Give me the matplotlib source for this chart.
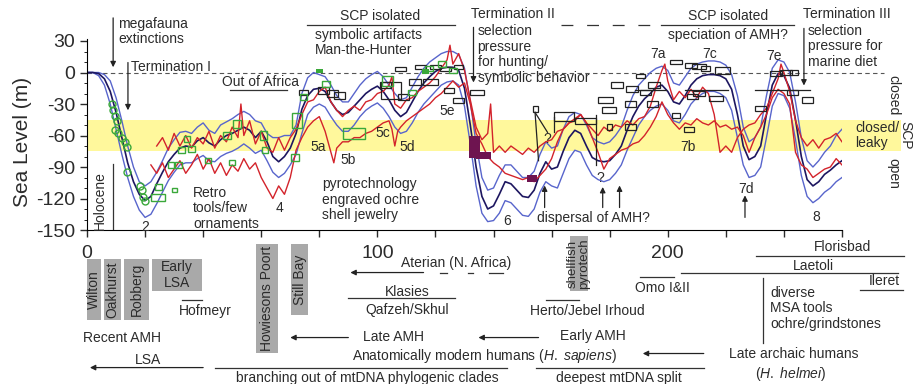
import matplotlib
matplotlib.use('Agg')
import matplotlib.pyplot as plt
from matplotlib.patches import Rectangle

plt.rcParams['font.family'] = ['Liberation Sans', 'DejaVu Sans']
plt.rcParams['mathtext.fontset'] = 'custom'
plt.rcParams['mathtext.rm'] = 'Liberation Sans'
plt.rcParams['mathtext.it'] = 'Liberation Sans:italic'
plt.rcParams['axes.unicode_minus'] = False

# ---- sea level model (ka, m) ----
BLUE_KA = [0, 2, 4, 6, 8, 10, 12, 14, 16, 18,
           20, 22, 24, 26, 28, 30, 32, 34, 36, 38,
           40, 42, 44, 46, 48, 50, 52, 54, 56, 58,
           60, 62, 64, 66, 68, 70, 72, 74, 76, 78,
           80, 82, 84, 86, 88, 90, 92, 94, 96, 98,
           100, 102, 104, 106, 108, 110, 112, 114, 116, 118,
           120, 122, 124, 126, 128, 130, 132, 134, 136, 138,
           140, 142, 144, 146, 148, 150, 152, 154, 156, 158,
           160, 162, 164, 166, 168, 170, 172, 174, 176, 178,
           180, 182, 184, 186, 188, 190, 192, 194, 196, 198,
           200, 202, 204, 206, 208, 210, 212, 214, 216, 218,
           220, 222, 224, 226, 228, 230, 232, 234, 236, 238,
           240, 242, 244, 246, 248, 250, 252, 254, 256, 258,
           260]
NAVY = [0, 0, -1, -6, -18, -38, -62, -86, -104, -116,
        -122, -118, -106, -95, -85, -78, -72, -70, -71, -65,
        -62, -67, -70, -64, -60, -58, -55, -52, -55, -62,
        -56, -66, -80, -85, -80, -72, -58, -35, -22, -16,
        -15, -18, -28, -36, -40, -38, -32, -26, -20, -16,
        -13, -18, -26, -36, -42, -38, -28, -18, -10, -4,
        1, 4, 5, 5, 2, -15, -50, -90, -118, -130,
        -127, -116, -104, -106, -112, -118, -119, -112, -96, -85,
        -92, -90, -75, -62, -55, -58, -70, -81, -84, -85,
        -84, -78, -70, -55, -42, -32, -25, -20, -14, -12,
        -18, -28, -30, -22, -12, -6, -3, -2, -2, -3,
        -6, -16, -40, -70, -83, -80, -70, -40, -12, -1,
        -3, -15, -45, -80, -102, -108, -104, -97, -93, -88,
        -84]
BLUE_HI = [0, 0, 0, -2, -8, -24, -46, -70, -90, -104,
           -108, -104, -95, -84, -72, -64, -57, -56, -58, -52,
           -48, -55, -58, -50, -47, -44, -40, -37, -40, -46,
           -48, -58, -62, -62, -60, -60, -50, -20, -5, 0,
           -2, -4, -12, -22, -28, -28, -20, -12, -6, -2,
           1, -4, -12, -20, -26, -24, -14, -4, 4, 10,
           14, 18, 20, 20, 17, 4, -28, -68, -100, -112,
           -110, -98, -88, -88, -94, -100, -100, -94, -78, -66,
           -72, -70, -54, -42, -38, -40, -50, -62, -66, -68,
           -66, -60, -52, -36, -22, -12, -6, 0, 4, 6,
           2, -10, -12, -4, 4, 8, 10, 11, 11, 10,
           7, -2, -22, -52, -66, -62, -52, -22, 4, 12,
           10, 0, -28, -62, -84, -90, -84, -76, -70, -60,
           -54]
BLUE_LO = [0, 0, -3, -12, -30, -54, -78, -100, -118, -131,
           -138, -135, -125, -114, -103, -95, -88, -86, -86, -82,
           -79, -84, -85, -80, -77, -75, -72, -68, -72, -77,
           -74, -84, -95, -100, -96, -88, -78, -58, -40, -33,
           -30, -33, -42, -50, -56, -56, -50, -42, -36, -32,
           -29, -34, -42, -52, -58, -56, -48, -38, -30, -24,
           -18, -12, -9, -8, -12, -32, -68, -108, -134, -142,
           -141, -134, -122, -124, -130, -136, -137, -130, -114, -104,
           -108, -110, -96, -82, -74, -76, -88, -98, -102, -104,
           -102, -96, -88, -74, -62, -50, -42, -36, -32, -30,
           -36, -46, -48, -40, -30, -24, -20, -18, -18, -20,
           -24, -36, -62, -88, -100, -98, -90, -62, -32, -20,
           -22, -34, -64, -98, -118, -124, -120, -114, -110, -104,
           -100]

# ---- red sea level records ----
REDA_KA = [24, 26, 28, 30, 32, 34, 36, 38, 40, 42, 44, 46, 48, 50, 52, 53, 54, 56, 58, 60,
           62, 64, 66, 68, 70, 72, 74, 76, 78, 80, 82, 84, 86, 88, 90, 92, 94, 96, 98, 100,
           102, 104, 105, 106, 108, 110, 112, 114, 116, 118, 120, 122, 124, 125, 126, 128, 130, 132, 134, 136,
           138, 139, 140, 142, 144, 146, 148, 150, 152, 154, 156, 158, 160, 162, 164, 166, 168, 170, 172, 174,
           176, 178, 180, 182, 184, 186, 188, 190, 192, 194, 196, 198, 199, 200, 202, 204, 206, 208, 210, 212,
           214, 216, 218, 220, 222, 224, 226, 228, 230, 232, 234, 236, 238, 239, 240, 242, 244, 246, 248, 250,
           252, 254, 256, 258, 260]
REDA_M = [-70, -62, -74, -58, -70, -60, -72, -62, -68, -56, -72, -60, -66, -52, -62, -30, -60, -46, -68, -56,
          -72, -76, -62, -74, -62, -54, -40, -28, -26, -18, -14, -28, -36, -42, -36, -32, -36, -28, -26, -20,
          -18, -12, -4, -30, -34, -26, -24, -18, -14, -10, -4, 4, 12, 26, 8, 18, 2, -26, -52, -64,
          -58, -30, -76, -70, -76, -70, -74, -78, -72, -76, -70, -66, -64, -56, -54, -48, -46, -40, -48, -54,
          -60, -52, -56, -50, -52, -46, -50, -44, -42, -32, -14, 2, 8, -8, -26, -18, -24, -16, -24, -14,
          -20, -40, -76, -70, -76, -62, -54, -50, -48, -40, -34, -20, -6, 8, 0, -18, -46, -62, -70, -64,
          -72, -64, -62, -58, -66]
REDB_KA = [22, 24, 26, 28, 30, 32, 34, 36, 38, 40, 42, 44, 46, 48, 50, 52, 54, 56, 58, 60,
           62, 64, 66, 68, 70, 72, 74, 76, 78, 80, 82, 84, 85, 86, 88, 90, 92, 94, 96, 98,
           100, 102, 104, 105, 106, 107, 108, 110, 112, 114, 116, 118, 120, 122, 124, 126, 128, 130, 132, 134,
           136, 138, 140, 142, 144, 146, 148, 150, 152, 154, 156, 158, 160, 162, 164, 166, 168, 170, 172, 174,
           176, 178, 180, 182, 184, 186, 188, 190, 192, 194, 196, 198, 200, 202, 204, 206, 208, 210, 212, 214,
           216, 218, 220, 222, 224, 226, 228, 230, 232, 234, 236, 238, 240, 242, 244, 246, 248, 250, 252, 254,
           256, 258, 260]
REDB_M = [-88, -96, -86, -100, -92, -84, -96, -88, -78, -92, -82, -96, -86, -98, -88, -94, -82, -92, -86, -100,
          -110, -120, -108, -116, -100, -74, -62, -52, -46, -42, -56, -76, -86, -72, -66, -66, -62, -62, -58, -56,
          -52, -48, -46, -54, -70, -56, -52, -46, -42, -38, -34, -30, -24, -20, -14, -8, -14, -10, -30, -58,
          -68, -80, -86, -90, -96, -98, -100, -102, -100, -104, -98, -92, -82, -66, -54, -48, -44, -40, -48, -62,
          -76, -92, -82, -78, -74, -72, -68, -66, -60, -52, -42, -28, -40, -48, -54, -48, -50, -44, -48, -50,
          -46, -52, -50, -54, -52, -60, -76, -62, -52, -40, -24, -16, -20, -30, -76, -88, -92, -100, -96, -92,
          -90, -82, -88]

# ---- dated sea-level indicators: centre ka, centre m, half-range ka, half-range m ----
BOX_KA = [74.5, 81.4, 84.5, 87.0, 102.8, 104.8, 109.0, 108.0, 113.0, 114.8, 118.3, 120.0, 123.4, 128.0,
          124.6, 128.0, 134.3, 164.2, 171.7, 178.6, 179.8, 182.6, 187.6, 187.2, 190.7, 192.4, 195.2,
          194.7, 187.2, 202.8, 208.0, 202.8, 207.4, 208.5, 210.8, 213.1, 218.9, 210.8, 216.6, 232.0,
          237.2, 240.7, 243.5, 243.0, 248.2]
BOX_M = [-19, -17, -20, -22, -12, -17, -23, 3, -9, 5, -9, 5, 3.5, 5,
         -17, -27, -19, -42, -46, -26, -36, -12, -16, -30, -3, -19, -12,
         -30, -52, 10, 7, -41, -54, -23, 6, 4, 2, -20, -25, -34,
         -1, 0, 0, -19, -26]
BOX_DKA = [1.5, 1.8, 1.8, 1.8, 2.0, 3.5, 2.0, 2.0, 2.0, 2.0, 2.5, 2.0, 2.0, 1.5,
           1.8, 1.8, 2.5, 3.5, 3.5, 2.5, 2.5, 2.0, 2.0, 1.8, 1.5, 2.0, 2.0,
           2.0, 2.0, 2.0, 2.0, 1.5, 1.8, 1.8, 2.5, 1.5, 2.5, 2.0, 2.5, 1.8,
           2.0, 2.0, 1.5, 2.0, 1.8]
BOX_DM = [2.5, 3, 3, 3, 3, 8, 3, 2, 2.5, 2, 2.5, 2, 2, 2,
          2.5, 2.5, 2.5, 4, 3, 3, 3, 3, 3, 2.5, 2, 2.5, 2.5,
          2.5, 2.5, 2, 2.5, 2.5, 2.5, 2.5, 2.5, 2.5, 3, 2.5, 2.5, 2.5,
          2.5, 2.5, 2.5, 2.5, 3]
SMALL_BOX_KA = [154.5, 180.0]
SMALL_BOX_M = [-35, -52]

GREEN_SQ_KA = [24.6, 24.5, 30.1, 29.0, 31.5, 32.6, 34.4, 36.0, 41.8, 48.2, 49.9, 51.6, 60.8, 61.4,
               71.7, 72.3, 74.6, 82.3, 91.8, 103.5, 112.0, 117.7, 122.3, 126.0]
GREEN_SQ_M = [-109, -119, -112, -88, -88, -74, -63, -73, -84, -60, -86, -49, -60, -74,
              -81, -46, -23, -11, -58, -8, -19, 4, 8, 2]
GREEN_SQ_DKA = [1.1, 2.3, 1.0, 1.1, 1.1, 1.1, 1.1, 1.1, 1.0, 1.3, 1.1, 1.3, 1.1, 1.1,
                1.3, 1.8, 1.3, 1.3, 3.8, 2.0, 1.3, 1.3, 1.5, 1.3]
GREEN_SQ_DM = [3, 3, 2, 2.5, 2.5, 3, 3, 3, 2.5, 3.5, 2.5, 3.5, 4, 3,
               3, 7, 3, 3, 5, 5, 2.5, 2.5, 3, 2.5]
GREEN_FILL_KA = [80.0, 116.6]
GREEN_FILL_M = [1.5, 1.0]

CORAL_KA = [8.5, 9.1, 9.7, 10.2, 9.7, 10.8, 12.0, 13.1, 13.7, 13.7, 18.3, 18.9, 19.4, 20.0]
CORAL_M = [-30, -36, -41, -46, -55, -58, -62, -66, -71, -95, -108, -112, -119, -122]

PURPLE_KA = [133.5, 136.4, 153.3]
PURPLE_M = [-70.5, -79, -101]
PURPLE_DKA = [2.0, 2.6, 1.7]
PURPLE_DM = [10.5, 3.5, 3.2]

# range bars (ka0, m0, ka1, m1)
RANGE_LINES = [(154.3, -38, 155.5, -84), (154.3, -38, 158.6, -57), (160.8, -42, 160.8, -57),
               (175.2, -40, 175.2, -88), (230, -17, 249, -17), (206, -16.5, 220.7, -16.5),
               (188.6, -17, 199.5, -17)]

TXT = '#2b2b2b'
LBLUE = '#5865cc'
NAVYC = '#1d1660'
RED = '#d3232b'
GREEN = '#3aa83a'

fig = plt.figure(figsize=(9.13, 3.84), dpi=100)
ax = fig.add_axes([0.0953, 0.401, 0.8269, 0.4977])
ax.set_xlim(0, 260)
ax.set_ylim(-150, 32)
for s in ['top', 'right']:
    ax.spines[s].set_visible(False)
ax.set_yticks([-150, -120, -90, -60, -30, 0, 30])
ax.set_yticks(range(-150, 31, 10), minor=True)
ax.set_xticks(range(0, 261, 20))
ax.set_xticklabels(['0' if t == 0 else ('100' if t == 100 else ('200' if t == 200 else '')) for t in range(0, 261, 20)])
ax.tick_params(axis='both', which='major', labelsize=14, length=5, width=1, colors=TXT)
ax.tick_params(axis='y', which='minor', length=2.5)
ax.tick_params(axis='x', pad=6)
ax.text(-0.086, 0.46, 'Sea Level (m)', transform=ax.transAxes, rotation=90,
        ha='center', va='center', fontsize=15, color=TXT)

# SCP band and zero line
ax.add_patch(Rectangle((0, -75), 280.3, 30, facecolor='#fff89c', edgecolor='none', zorder=0, clip_on=False))
ax.plot([0, 274.5], [0, 0], ls=(0, (4, 3)), color='#555555', lw=0.8, zorder=1, clip_on=False)

# curves
ax.plot(BLUE_KA, BLUE_HI, color=LBLUE, lw=1.0, zorder=2)
ax.plot(BLUE_KA, BLUE_LO, color=LBLUE, lw=1.0, zorder=2)
ax.plot(REDA_KA, REDA_M, color=RED, lw=1.0, zorder=2.2)
ax.plot(REDB_KA, REDB_M, color=RED, lw=1.0, zorder=2.2)
ax.plot(BLUE_KA, NAVY, color=NAVYC, lw=1.2, zorder=2.1)

for k, m, dk, dm in zip(PURPLE_KA, PURPLE_M, PURPLE_DKA, PURPLE_DM):
    ax.add_patch(Rectangle((k - dk, m - dm), 2 * dk, 2 * dm, facecolor='#6e1450', edgecolor='none', zorder=2.5))
for k, m, dk, dm in zip(BOX_KA, BOX_M, BOX_DKA, BOX_DM):
    ax.add_patch(Rectangle((k - dk, m - dm), 2 * dk, 2 * dm, facecolor='none', edgecolor='#222222', lw=0.9, zorder=3))
for k, m in zip(SMALL_BOX_KA, SMALL_BOX_M):
    ax.add_patch(Rectangle((k - 0.9, m - 3), 1.8, 6, facecolor='none', edgecolor='#222222', lw=0.9, zorder=3))
for k0, m0, k1, m1 in RANGE_LINES:
    ax.plot([k0, k1], [m0, m1], color='#222222', lw=0.9, zorder=3)
for k, m, dk, dm in zip(GREEN_SQ_KA, GREEN_SQ_M, GREEN_SQ_DKA, GREEN_SQ_DM):
    ax.add_patch(Rectangle((k - dk, m - dm), 2 * dk, 2 * dm, facecolor='none', edgecolor=GREEN, lw=1.0, zorder=3))
for k, m in zip(GREEN_FILL_KA, GREEN_FILL_M):
    ax.add_patch(Rectangle((k - 1.3, m - 2), 2.6, 4, facecolor=GREEN, edgecolor='none', zorder=3))
ax.plot(CORAL_KA, CORAL_M, 'o', ms=5, mfc='none', mec=GREEN, mew=1.0, zorder=3)


def note(x, y, s, **kw):
    kw.setdefault('fontsize', 10)
    kw.setdefault('color', TXT)
    kw.setdefault('ha', 'left')
    kw.setdefault('va', 'center')
    kw.setdefault('linespacing', 1.15)
    ax.text(x, y, s, clip_on=False, zorder=4, **kw)


def arrow(x0, y0, x1, y1):
    ax.annotate('', xy=(x1, y1), xytext=(x0, y0), annotation_clip=False,
                arrowprops=dict(arrowstyle='-|>', color='#222222', lw=0.9, mutation_scale=8,
                                shrinkA=0, shrinkB=0), zorder=4)


def hline(x0, x1, y, **kw):
    ax.plot([x0, x1], [y, y], color='#333333', lw=0.9, clip_on=False, zorder=4, **kw)


def gray(x0, x1, y0, y1):
    ax.add_patch(Rectangle((x0, y0), x1 - x0, y1 - y0, facecolor='#a9a9a9', edgecolor='none',
                           clip_on=False, zorder=3))


# upper annotations
note(10.7, 39, 'megafauna\nextinctions')
arrow(9.0, 52, 9.0, 5)
arrow(14.1, 9.5, 14.1, -36)
note(15.2, 5.5, 'Termination I')
note(59.7, -9.5, 'Out of Africa', ha='center')
hline(49.3, 69, -17)
note(101, 54, 'SCP isolated', ha='center')
hline(75.9, 126.9, 45.7)
note(78.6, 28.6, 'symbolic artifacts\nMan-the-Hunter')
note(4.5, -122, 'Holocene', rotation=90, ha='center')
ax.plot([9.0, 9.0], [-87, -150], color='#333333', lw=0.9, zorder=4)
note(20, -147, '2', ha='center')
note(36.6, -129.5, 'Retro\ntools/few\nornaments')
note(66.2, -128.6, '4', ha='center')
note(79.7, -71.4, '5a', ha='center')
note(90, -83.8, '5b', ha='center')
note(101.7, -58, '5c', ha='center')
note(110.3, -71.4, '5d', ha='center')
note(124.1, -37, '5e', ha='center')
note(81, -121, 'pyrotechnology\nengraved ochre\nshell jewelry')
note(132.4, 56, 'Termination II')
note(134.5, 17, 'selection\npressure\nfor hunting/\nsymbolic behavior')
arrow(133.1, 43, 133.1, -9.5)
ax.plot([163.1, 196.6], [45.7, 45.7], color='#333333', lw=0.9, ls=(0, (9.5, 11)), clip_on=False, zorder=4)
hline(197.6, 243.4, 45.7)
note(220.7, 54, 'SCP isolated', ha='center')
note(220.7, 36, 'speciation of AMH?', ha='center')
note(246.6, 56, 'Termination III')
note(248.3, 25, 'selection\npressure for\nmarine diet')
arrow(246.9, 42, 246.9, -12.4)
note(196.6, 18, '7a', ha='center')
note(214.5, 18, '7c', ha='center')
note(236.6, 16, '7e', ha='center')
note(206.9, -71.4, '7b', ha='center')
note(226.9, -110.5, '7d', ha='center')
arrow(226.6, -138, 226.6, -117)
note(144.8, -141, '6', ha='center')
note(251, -138, '8', ha='center')
note(174.5, -139, 'dispersal of AMH?', ha='center')
arrow(157.6, -128.6, 157.6, -107.6)
arrow(177.6, -128.6, 177.6, -109)
arrow(183.4, -128.6, 183.4, -107.6)
note(158.6, -63, '?', ha='center')
note(176.9, -100, '?', ha='center')
note(277.6, -22, 'closed', rotation=-90, ha='center')
note(277.6, -96, 'open', rotation=-90, ha='center')
note(281.8, -60, 'SCP', rotation=-90, ha='center')
note(264.5, -60, 'closed/\nleaky')

# lower annotations (below the age axis)
gray(0, 4.8, -236, -178)
gray(5.9, 11.7, -236, -178)
gray(12.8, 21.4, -236, -178)
gray(22.4, 39.7, -207.6, -178)
gray(58.3, 65.9, -266.7, -163)
gray(70.3, 76.2, -231, -163)
gray(166.2, 172.4, -207.6, -156)
note(2.4, -207, 'Wilton', rotation=90, ha='center')
note(8.8, -207, 'Oakhurst', rotation=90, ha='center')
note(17.1, -207, 'Robberg', rotation=90, ha='center')
note(31, -193, 'Early\nLSA', ha='center')
note(62.1, -215, 'Howiesons Poort', rotation=90, ha='center')
note(73.25, -197, 'Still Bay', rotation=90, ha='center')
note(169.3, -182, 'shellfish\npyrotech', rotation=90, ha='center', fontsize=9.5, linespacing=1.0)
hline(32.8, 39.7, -217)
note(40.7, -226.7, 'Hofmeyr', ha='center')
note(-1.4, -253, 'Recent AMH')
note(21, -274, 'LSA', ha='center')
arrow(40, -281, 1, -281)
hline(44.1, 144.8, -281)
note(51.4, -291, 'branching out of mtDNA phylogenic clades')
hline(154.5, 212.4, -281)
note(183.1, -291, 'deepest mtDNA split', ha='center')
note(95.2, -252, 'Late AMH')
arrow(90, -252.4, 70, -252.4)
note(91.4, -269.5, r'Anatomically modern humans $\it{(H.\ sapiens)}$')
note(108, -181, 'Aterian (N. Africa)')
arrow(115.9, -190.5, 90.7, -190.5)
hline(121.4, 124.0, -190.5)
hline(131.2, 133.1, -190.5)
hline(138.3, 143.4, -190.5)
note(110.3, -208.6, 'Klasies', ha='center')
hline(90, 126.9, -215)
note(110.3, -225.7, 'Qafzeh/Skhul', ha='center')
hline(190.3, 202, -195)
note(198.3, -204.8, 'Omo I&II', ha='center')
hline(158, 169.3, -217)
note(172.4, -226.7, 'Herto/Jebel Irhoud', ha='center')
note(174.1, -251.4, 'Early AMH', ha='center')
arrow(155.5, -252.4, 134.8, -252.4)
arrow(212.4, -267.6, 191.4, -267.6)
note(260.3, -165.7, 'Florisbad', ha='center')
hline(230.3, 281.4, -174.3)
note(250.3, -183.8, 'Laetoli', ha='center')
hline(204.5, 279.3, -190.5)
note(274.5, -198.5, 'Ileret', ha='center')
hline(266.2, 281, -206.7)
note(235.2, -224.5, 'diverse\nMSA tools\nochre/grindstones')
ax.plot([232.8, 232.8], [-196, -258], color='#333333', lw=0.9, clip_on=False, zorder=4)
note(221, -267.6, 'Late archaic humans')
note(242.4, -286.7, r'($\it{H.\ helmei}$)', ha='center')

fig.savefig('out.png', dpi=100)
